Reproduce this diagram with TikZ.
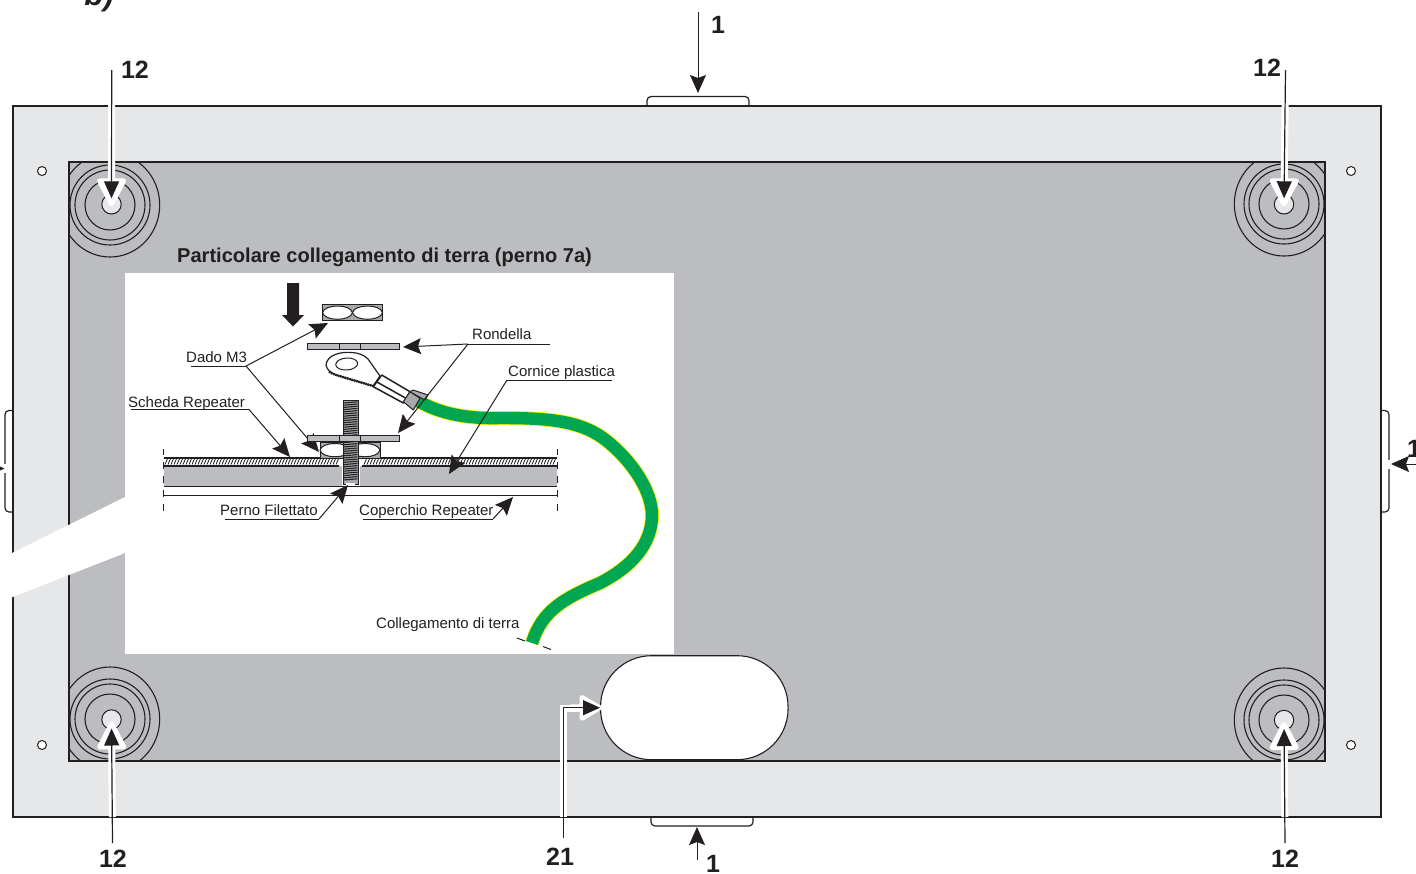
\documentclass[tikz,border=0pt]{standalone}
\usepackage{fontspec}
\setmainfont{Liberation Sans}
\usetikzlibrary{arrows.meta}
\definecolor{inkc}{HTML}{231F20}
\definecolor{framec}{HTML}{E6E7E8}
\definecolor{panelc}{HTML}{BCBDC0}
\definecolor{cablec}{HTML}{00A651}
\definecolor{earthc}{HTML}{FFF200}
\definecolor{lugc}{HTML}{A7A9AC}
\tikzset{
  part/.style={draw=inkc,line width=1.2pt},
  refnum/.style={font=\fontsize{25}{25}\selectfont\bfseries,text=inkc,inner sep=0pt},
  callout/.style={font=\fontsize{15}{15}\selectfont,text=inkc,inner sep=0pt,anchor=base west},
  leader/.style={draw=inkc,line width=1pt},
  tipped/.style={leader,-{Stealth[length=18pt,width=16pt,inset=3pt]}},
  halo/.style={draw=white,line width=7pt,-{Triangle[length=31pt,width=31pt,line width=5pt,round]}},
  bigtip/.style={draw=inkc,line width=1.2pt,-{Triangle[length=17pt,width=15pt]}},
  hole/.style={circle,draw=inkc,line width=1pt,fill=framec,minimum size=19.4pt,inner sep=0pt},
  pin/.style={circle,draw=inkc,line width=1pt,fill=white,minimum size=9pt,inner sep=0pt},
  plate/.style={draw=inkc,line width=1pt,fill=panelc}
}
\begin{document}
\begin{tikzpicture}[x=1pt,y=-1pt]
\clip (0,0) rectangle (1416,873);
\useasboundingbox (0,0) rectangle (1416,873);

% frame and panel
\draw[part,fill=framec] (13,106) rectangle (1381,817);
\draw[part,fill=panelc] (69,162) rectangle (1325,761);
\draw[part,rounded corners=4pt] (647,106) -- (647,96.5) -- (749,96.5) -- (749,106);
\draw[part,rounded corners=4pt] (651,817) -- (651,826) -- (753,826) -- (753,817);
\draw[part,rounded corners=4pt] (13,410.5) -- (5,410.5) -- (5,512) -- (13,512);
\draw[part,rounded corners=4pt] (1381,410.5) -- (1389,410.5) -- (1389,512) -- (1381,512);

\node[pin] (pina) at (42,171) {};
\node[pin] (pinb) at (1351,171) {};
\node[pin] (pinc) at (42,745) {};
\node[pin] (pind) at (1351,745) {};

% rings
\begin{scope}
\clip (69,162) rectangle (1325,761);
\foreach \cx/\cy in {110/205,1284/204,110/719,1284/720}{
  \foreach \rr in {25,35,40}
    \draw[inkc,line width=1.1pt] (\cx,\cy) circle (\rr);
  \draw[inkc,line width=1.1pt] (\cx,\cy) ellipse (49.7 and 52);
}
\end{scope}

\node[hole] (holea) at (111.5,204.3) {};
\node[hole] (holeb) at (1284,204.3) {};
\node[hole] (holec) at (111.5,719.5) {};
\node[hole] (holed) at (1284,720) {};

\coordinate (starta) at (111.7,70);
\coordinate (startb) at (1285.5,70);
\coordinate (startc) at (112.5,843);
\coordinate (startd) at (1285,843);

\foreach \nm in {a,b}{
  \draw[halo,shorten <=33pt,shorten >=-2pt] (start\nm) -- (hole\nm.center);
  \draw[bigtip,shorten >=6pt] (start\nm) -- (hole\nm.center);
}
\foreach \nm in {c,d}{
  \draw[halo,shorten <=26pt,shorten >=2pt] (start\nm) -- (hole\nm.center);
  \draw[bigtip,shorten >=9pt] (start\nm) -- (hole\nm.center);
}

\node[refnum] (numa) at (135,70) {12};
\node[refnum] (numb) at (1267,68) {12};
\node[refnum] (numc) at (113,859) {12};
\node[refnum] (numd) at (1285,859) {12};
\node[refnum] (nume) at (718,25) {1};
\node[refnum] (numf) at (713,864) {1};
\node[refnum] (numg) at (1414,449) {1};
\node[refnum] (numh) at (560,857) {21};
\node[font=\fontsize{31}{31}\selectfont\bfseries\itshape,text=inkc,inner sep=0pt,anchor=base] (numi) at (99,5) {b)};

% side arrows
\coordinate (tabt) at (698,12);
\coordinate (tabtend) at (698,93);
\coordinate (tabb) at (697,860);
\coordinate (tabbend) at (697,827);
\coordinate (tabl) at (-30,468.5);
\coordinate (tablend) at (4.5,468.5);
\coordinate (tabr) at (1430,464);
\coordinate (tabrend) at (1391,464);
\draw[tipped] (tabt) -- (tabtend);
\draw[tipped] (tabb) -- (tabbend);
\draw[white,line width=9pt] (0,468.5) -- (9,468.5);
\draw[white,line width=9pt] (1386,464) -- (1392,464);
\draw[tipped] (tabl) -- (tablend);
\draw[tipped] (tabr) -- (tabrend);

% slot
\node[draw=inkc,line width=1.1pt,fill=white,rectangle,rounded corners=51pt,minimum width=187.5pt,minimum height=104pt,inner sep=0pt] (slot) at (694.3,707.7) {};
\coordinate (slotstart) at (563.5,838);
\draw[white,line width=7pt,shorten <=21pt] (slotstart) |- (583,708);
\draw[draw=white,line width=7pt,-{Triangle[length=25pt,width=28pt,line width=5pt,round]},shorten >=-2pt] (570,708) -- (slot.west);
\draw[bigtip] (slotstart) |- (slot.west);

% inset
\fill[white] (125,497) -- (0,559) -- (0,602) -- (125,553) -- cycle;
\fill[white] (124.5,273) rectangle (674,654);
\node[font=\fontsize{20.06}{20.06}\selectfont\bfseries,text=inkc,inner sep=0pt,anchor=base west] (title) at (177,262) {Particolare collegamento di terra (perno 7a)};

\fill[inkc] (287,283) -- (299,283) -- (299,315) -- (304,315) -- (293,326.5) -- (282,315) -- (287,315) -- cycle;

% board and cover
\fill[panelc] (163.5,466) rectangle (341.5,486);
\fill[panelc] (359.5,466) rectangle (557,486);
\draw[inkc,line width=1pt] (163.5,486.5) -- (557,486.5);
\draw[inkc,line width=2pt] (163.5,458) -- (339,458);
\draw[inkc,line width=2pt] (362,458) -- (557,458);
\draw[inkc,line width=2pt] (163.5,465.5) -- (339,465.5);
\draw[inkc,line width=2pt] (362,465.5) -- (557,465.5);
\foreach \hx in {165,168,...,336}
  \draw[inkc,line width=0.8pt] (\hx,464.5) -- (\hx+2.4,459);
\foreach \hx in {364,367,...,554}
  \draw[inkc,line width=0.8pt] (\hx,464.5) -- (\hx+2.4,459);
\draw[inkc,line width=1pt] (163.5,495) -- (557,495);
\draw[inkc,line width=1pt,dash pattern=on 7pt off 7pt,dash phase=1pt] (163.5,449) -- (163.5,514);
\draw[inkc,line width=1pt,dash pattern=on 7pt off 7pt,dash phase=1pt] (557,449) -- (557,514);

% nuts
\foreach \nx/\ny in {322.5/304.5,320/442}{
  \draw[plate,fill=lugc] (\nx,\ny) rectangle (\nx+60,\ny+16.3);
  \foreach \dx in {0,30}
    \draw[leader,fill=white] (\nx+\dx,\ny+8.1) .. controls (\nx+\dx+2,\ny-0.7) and (\nx+\dx+28,\ny-0.7) .. (\nx+\dx+30,\ny+8.1) .. controls (\nx+\dx+28,\ny+17) and (\nx+\dx+2,\ny+17) .. cycle;
}

% bolt
\draw[plate,fill=lugc] (343,400.5) rectangle (358,484);
\foreach \ty in {403,405.2,...,482}
  \draw[inkc,line width=1.1pt] (343.5,\ty) -- (357.5,\ty-1.2);
\fill[white] (345.5,482.5) rectangle (355,484.5);

% washers
\draw[plate] (307,343) rectangle (399,349.2);
\draw[leader] (339.3,343) -- (339.3,349.2);
\draw[leader] (360.7,343) -- (360.7,349.2);

% lug
\draw[part,fill=white,line join=round] (326,365) .. controls (327,355) and (340,351.5) .. (352,352.5) .. controls (359,353) and (364,355) .. (368,359) -- (380,376) -- (373,386) -- (338,375.5) .. controls (331,373.5) and (327,370) .. cycle;
\draw[inkc,line width=2.4pt,dash pattern=on 1.6pt off 0.8pt] (329,371.5) .. controls (332,374) and (336,375) .. (341,376.5) -- (373,386);
\draw[inkc,line width=1pt,rotate around={4:(346.7,364)}] (346.7,364) ellipse (11 and 6);
\draw[draw=inkc,line width=1.5pt,fill=white,line join=round] (381.7,375) -- (410,391.7) -- (403.3,403) -- (373.3,386.7) -- cycle;
\draw[inkc,line width=1.5pt] (376,381.5) -- (405.5,398);

% earth lead
\draw[earthc,line width=14pt] (413,398) .. controls (435,412) and (462,419) .. (500,418) .. controls (545,418) and (578,420) .. (603,438) .. controls (630,458) and (652,490) .. (652,515) .. controls (652,543) and (633,566) .. (600,583) .. controls (565,598) and (542,610) .. (532,643);
\draw[cablec,line width=12.4pt] (413,398) .. controls (435,412) and (462,419) .. (500,418) .. controls (545,418) and (578,420) .. (603,438) .. controls (630,458) and (652,490) .. (652,515) .. controls (652,543) and (633,566) .. (600,583) .. controls (565,598) and (542,610) .. (532,643);
\draw[leader,fill=lugc,line join=round] (413,390) -- (428,395) -- (425,400) -- (410,392) -- cycle;
\draw[leader,fill=lugc,line join=round] (410,391.7) -- (403.3,401.7) -- (413.3,410) -- (420,398.3) -- cycle;
\draw[inkc,line width=1pt] (517,638) -- (525,641);
\draw[inkc,line width=1pt] (543,646.5) -- (551,649.5);

% callouts
\node[callout] (dado) at (186,362) {Dado M3};
\coordinate (dadoa) at (191,366);
\coordinate (dadob) at (246,366);
\coordinate (dadoc) at (328,323);
\coordinate (dadod) at (319,452);
\draw[leader] (dadoa) -- (dadob);
\draw[tipped] (dadob) -- (dadoc);
\draw[tipped] (dadob) -- (dadod);

\draw[plate] (307,435.7) rectangle (399,441.9);
\draw[leader] (339.3,435.7) -- (339.3,441.9);
\draw[leader] (360.7,435.7) -- (360.7,441.9);

\node[callout] (scheda) at (128,407) {Scheda Repeater};
\coordinate (schedaa) at (131,409.5);
\coordinate (schedab) at (249,409.5);
\coordinate (schedac) at (290,457);
\draw[leader] (schedaa) -- (schedab);
\draw[tipped] (schedab) -- (schedac);

\node[callout] (rondella) at (472,339) {Rondella};
\coordinate (ronda) at (550,344);
\coordinate (rondb) at (468,344);
\coordinate (rondc) at (403,347);
\coordinate (rondd) at (398,433);
\draw[leader] (ronda) -- (rondb);
\draw[tipped] (rondb) -- (rondc);
\draw[tipped] (rondb) -- (rondd);

\node[callout] (cornice) at (508,376) {Cornice plastica};
\coordinate (cornicea) at (612,380);
\coordinate (corniceb) at (507,380);
\coordinate (cornicec) at (449,474);
\draw[leader] (cornicea) -- (corniceb);
\draw[tipped] (corniceb) -- (cornicec);

\node[callout] (perno) at (220,515) {Perno Filettato};
\coordinate (pernoa) at (225,519);
\coordinate (pernob) at (319,519);
\coordinate (pernoc) at (348,485);
\draw[leader] (pernoa) -- (pernob);
\draw[tipped] (pernob) -- (pernoc);

\node[callout] (coperchio) at (359,515) {Coperchio Repeater};
\coordinate (copa) at (363,519);
\coordinate (copb) at (493,519);
\coordinate (copc) at (513,497);
\draw[leader] (copa) -- (copb);
\draw[tipped] (copb) -- (copc);

\node[callout] (terra) at (376,628) {Collegamento di terra};
\end{tikzpicture}
\end{document}
